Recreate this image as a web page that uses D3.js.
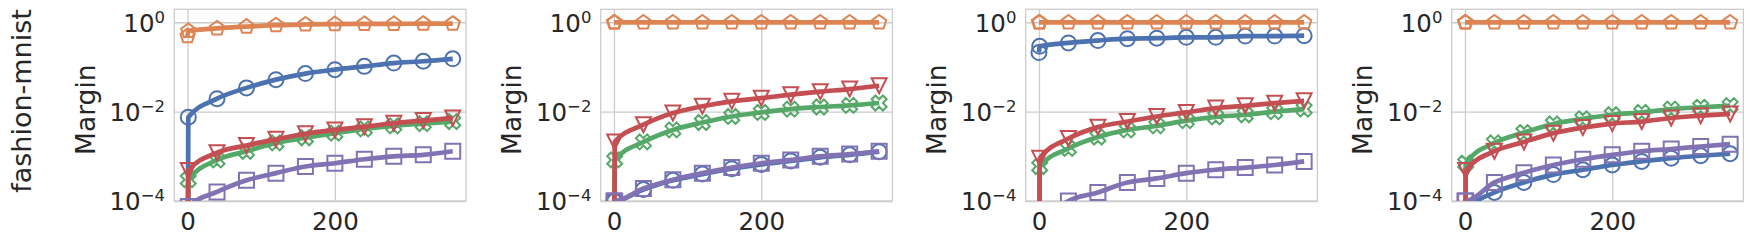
<!DOCTYPE html>
<html>
<head>
<meta charset="utf-8">
<script src="https://cdn.jsdelivr.net/npm/d3@7"></script>
<style>
  html, body { margin: 0; padding: 0; background: #ffffff; }
  svg { display: block; }
  text { font-family: "DejaVu Sans", sans-serif; fill: #262626; }
</style>
</head>
<body>
<svg id="chart" width="1750" height="242"></svg>
<script>
// ---------------- data ----------------
const rowLabel = "fashion-mnist";
const yLabel = "Margin";
const steps = [0, 1, 40, 80, 120, 160, 200, 240, 280, 320, 360];
const xTickValues = [0, 200];
const yTickValues = [1e-4, 1e-2, 1];
const yTickExponents = ["\u22124", "\u22122", "0"];
const seriesNames = ["blue", "orange", "green", "red", "purple"];
const seriesColors = ["#4c72b0", "#dd8452", "#55a868", "#c44e52", "#8172b3"];
const seriesMarkers = ["circle", "pentagon", "xfilled", "triangleDown", "square"];

// 1e-7 marks values that fall below the plotted range (zero margin)
const panel1Blue   = [1e-7, 7.5e-3, 0.0195, 0.034, 0.052, 0.071, 0.087, 0.103, 0.122, 0.134, 0.152];
const panel1Orange = [0.49, 0.64, 0.73, 0.80, 0.86, 0.89, 0.91, 0.92, 0.92, 0.93, 0.93];
const panel1Green  = [1e-7, 3.0e-4, 8.3e-4, 1.3e-3, 2.0e-3, 2.6e-3, 3.3e-3, 4.1e-3, 4.8e-3, 5.4e-3, 6.0e-3];
const panel1Red    = [1e-7, 4.8e-4, 1.2e-3, 1.75e-3, 2.4e-3, 3.2e-3, 3.9e-3, 4.6e-3, 5.5e-3, 6.3e-3, 7.2e-3];
const panel1Purple = [5e-5, 7.5e-5, 1.6e-4, 2.9e-4, 4.2e-4, 5.9e-4, 7.0e-4, 8.6e-4, 1.0e-3, 1.08e-3, 1.3e-3];

const panel2Blue   = [1.0e-4, 1.0e-4, 1.8e-4, 2.9e-4, 4.0e-4, 5.3e-4, 6.6e-4, 7.9e-4, 9.5e-4, 1.08e-3, 1.27e-3];
const panel2Orange = [0.99, 0.99, 0.99, 0.99, 0.99, 0.99, 0.99, 0.99, 0.99, 0.99, 0.99];
const panel2Green  = [1e-7, 8.3e-4, 2.1e-3, 3.9e-3, 5.7e-3, 7.8e-3, 9.6e-3, 0.0114, 0.0127, 0.0138, 0.0156];
const panel2Red    = [1e-7, 2.1e-3, 5.1e-3, 9.3e-3, 0.0132, 0.017, 0.020, 0.024, 0.028, 0.032, 0.038];
const panel2Purple = [1.0e-4, 1.0e-4, 1.9e-4, 3.0e-4, 4.2e-4, 5.6e-4, 7.0e-4, 8.3e-4, 1.0e-3, 1.12e-3, 1.3e-3];

const panel3Blue   = [0.21, 0.29, 0.345, 0.39, 0.43, 0.44, 0.46, 0.46, 0.49, 0.49, 0.50];
const panel3Orange = [0.99, 0.99, 0.99, 0.99, 0.99, 0.99, 0.99, 0.99, 0.99, 0.99, 0.99];
const panel3Green  = [1e-7, 5.9e-4, 1.5e-3, 2.7e-3, 3.9e-3, 4.8e-3, 6.3e-3, 7.6e-3, 8.5e-3, 1.0e-2, 1.14e-2];
const panel3Red    = [1e-7, 9.0e-4, 2.5e-3, 4.5e-3, 6.0e-3, 7.8e-3, 9.6e-3, 0.012, 0.0135, 0.0155, 0.0175];
const panel3Purple = [2e-5, 3e-5, 1.0e-4, 1.55e-4, 2.6e-4, 3.2e-4, 4.2e-4, 5.0e-4, 5.6e-4, 6.4e-4, 7.7e-4];

const panel4Blue   = [3e-5, 6e-5, 1.55e-4, 2.6e-4, 3.9e-4, 5.0e-4, 6.4e-4, 7.7e-4, 9.1e-4, 1.03e-3, 1.14e-3];
const panel4Orange = [0.99, 0.99, 0.99, 0.99, 0.99, 0.99, 0.99, 0.99, 0.99, 0.99, 0.99];
const panel4Green  = [1e-7, 7.0e-4, 2.0e-3, 3.4e-3, 5.3e-3, 6.9e-3, 8.5e-3, 9.6e-3, 0.0114, 0.0125, 0.0136];
const panel4Red    = [1e-7, 4.8e-4, 1.3e-3, 2.1e-3, 3.3e-3, 4.4e-3, 5.4e-3, 6.0e-3, 7.2e-3, 8.1e-3, 8.9e-3];
const panel4Purple = [1.0e-4, 1.0e-4, 2.6e-4, 4.3e-4, 6.4e-4, 8.6e-4, 1.08e-3, 1.3e-3, 1.45e-3, 1.66e-3, 1.87e-3];

const panels = [
  [panel1Blue, panel1Orange, panel1Green, panel1Red, panel1Purple],
  [panel2Blue, panel2Orange, panel2Green, panel2Red, panel2Purple],
  [panel3Blue, panel3Orange, panel3Green, panel3Red, panel3Purple],
  [panel4Blue, panel4Orange, panel4Green, panel4Red, panel4Purple]
];

// ---------------- layout ----------------
const panelLefts = [174.3, 600.7, 1025.7, 1451.7];
const panelW = 291.7;
const plotTop = 9.3, plotBottom = 201;
const xDomain = [-18, 378];
const yDomain = [1e-4, 1.95];
const lineWidth = 4.7;
const markerSize = 15;
const markerStroke = 2;
const gridColor = "#cccccc";

const svg = d3.select("#chart");
svg.append("rect").attr("width", 1750).attr("height", 242).attr("fill", "#ffffff");

// row label
svg.append("text")
  .attr("transform", "translate(31,101) rotate(-90)")
  .attr("text-anchor", "middle")
  .style("font-size", "27px")
  .text(rowLabel);

function markerPath(type, s) {
  const h = s / 2;
  if (type === "circle") {
    return `M${h},0A${h},${h},0,1,1,${-h},0A${h},${h},0,1,1,${h},0Z`;
  }
  if (type === "square") {
    return `M${-h},${-h}L${h},${-h}L${h},${h}L${-h},${h}Z`;
  }
  if (type === "triangleDown") {
    return `M0,${h}L${-h},${-h}L${h},${-h}Z`;
  }
  if (type === "pentagon") {
    const pts = d3.range(5).map(i => {
      const a = -Math.PI / 2 + i * 2 * Math.PI / 5;
      return [h * Math.cos(a), h * Math.sin(a)];
    });
    return "M" + pts.map(p => p.join(",")).join("L") + "Z";
  }
  if (type === "xfilled") {
    const v = [[-0.25,-0.5],[0,-0.25],[0.25,-0.5],[0.5,-0.25],[0.25,0],[0.5,0.25],
               [0.25,0.5],[0,0.25],[-0.25,0.5],[-0.5,0.25],[-0.25,0],[-0.5,-0.25]];
    return "M" + v.map(p => [p[0]*s, p[1]*s].join(",")).join("L") + "Z";
  }
  return "";
}

panels.forEach((panelSeries, pi) => {
  const left = panelLefts[pi];
  const h = plotBottom - plotTop;
  const x = d3.scaleLinear().domain(xDomain).range([0, panelW]);
  const y = d3.scaleLog().domain(yDomain).range([h, 0]);

  const g = svg.append("g").attr("transform", `translate(${left},${plotTop})`);

  const clipId = "clip" + pi;
  g.append("clipPath").attr("id", clipId)
    .append("rect").attr("x", 0).attr("y", 0).attr("width", panelW).attr("height", h);

  // grid
  const xg = g.append("g").attr("transform", `translate(0,${h})`)
    .call(d3.axisBottom(x).tickValues(xTickValues).tickSize(-h).tickFormat(""));
  xg.select(".domain").remove();
  xg.selectAll("line").attr("stroke", gridColor).attr("stroke-width", 1.3);

  const yg = g.append("g")
    .call(d3.axisLeft(y).tickValues(yTickValues).tickSize(-panelW).tickFormat(""));
  yg.select(".domain").remove();
  yg.selectAll("line").attr("stroke", gridColor).attr("stroke-width", 1.3);

  // frame
  g.append("rect").attr("x", 0).attr("y", 0).attr("width", panelW).attr("height", h)
    .attr("fill", "none").attr("stroke", gridColor).attr("stroke-width", 1.3);

  // series
  const plot = g.append("g").attr("clip-path", `url(#${clipId})`);
  const line = d3.line()
    .x(d => x(d[0]))
    .y(d => y(d[1]))
    .curve(d3.curveMonotoneX);

  panelSeries.forEach((vals, si) => {
    const pts = steps.map((s, i) => [s, vals[i]]);
    plot.append("path")
      .attr("d", line(pts))
      .attr("fill", "none")
      .attr("stroke", seriesColors[si])
      .attr("stroke-width", lineWidth)
      .attr("stroke-linejoin", "round")
      .attr("stroke-linecap", "butt");
    plot.selectAll(null).data(pts).enter().append("path")
      .attr("transform", d => `translate(${x(d[0])},${y(d[1])})`)
      .attr("d", markerPath(seriesMarkers[si], markerSize))
      .attr("fill", "none")
      .attr("stroke", seriesColors[si])
      .attr("stroke-width", markerStroke)
      .attr("stroke-linejoin", "miter");
  });

  // x axis labels
  const xa = g.append("g").attr("transform", `translate(0,${h})`)
    .call(d3.axisBottom(x).tickValues(xTickValues).tickSize(0).tickFormat(d3.format("d")));
  xa.select(".domain").remove();
  xa.selectAll("text")
    .attr("y", 29).attr("dy", 0)
    .style("font-size", "24.5px")
    .style("font-family", "'DejaVu Sans', sans-serif")
    .attr("fill", "#262626");

  // y axis labels with superscripts
  const ya = g.append("g")
    .call(d3.axisLeft(y).tickValues(yTickValues).tickSize(0).tickFormat(""));
  ya.select(".domain").remove();
  ya.selectAll(".tick text").each(function(d, i) {
    const t = d3.select(this);
    t.text(null).attr("x", -9.3).attr("y", 8.8).attr("dy", 0)
      .attr("text-anchor", "end")
      .style("font-family", "'DejaVu Sans', sans-serif")
      .attr("fill", "#262626");
    t.append("tspan").style("font-size", "24.5px").text("10");
    t.append("tspan").attr("dy", -9).style("font-size", "16.5px").text(yTickExponents[i]);
  });

  // y label
  g.append("text")
    .attr("transform", `translate(${-79.3},${109.7 - plotTop}) rotate(-90)`)
    .attr("text-anchor", "middle")
    .style("font-size", "26.5px")
    .text(yLabel);
});
</script>
</body>
</html>
